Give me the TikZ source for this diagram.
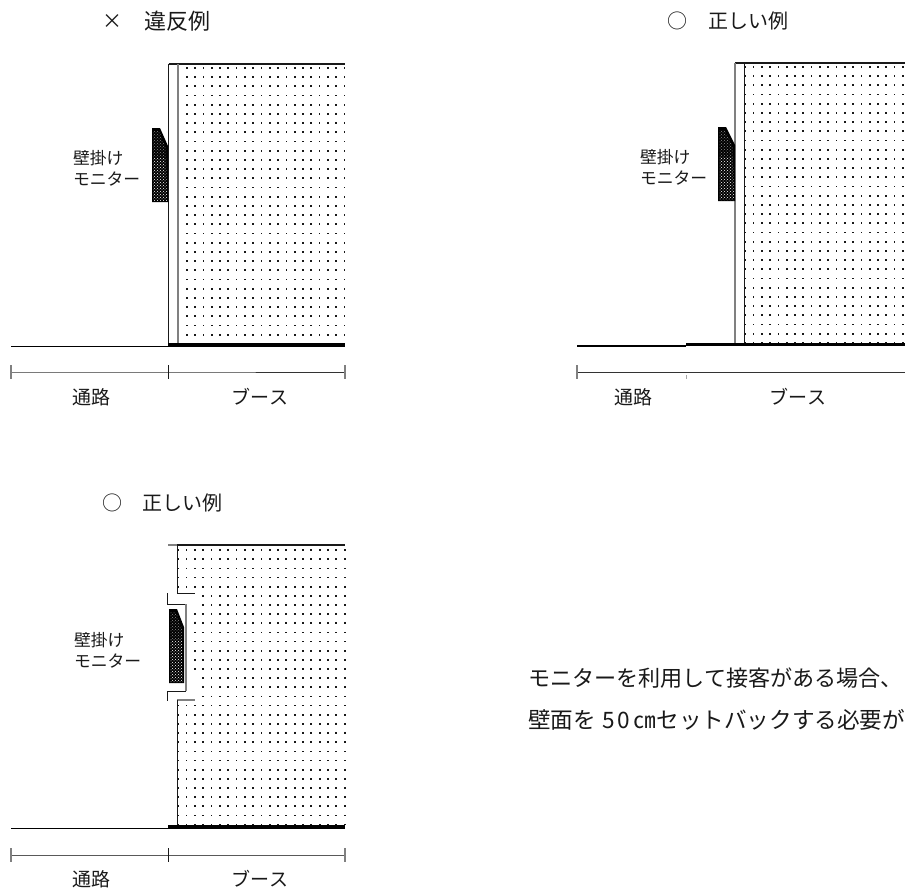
\documentclass[tikz,border=0pt]{standalone}
\usepackage{fontspec}
\usetikzlibrary{patterns}
\newfontfamily\cjk{Noto Sans CJK JP}
\newcommand{\fs}[1]{\fontsize{#1}{#1}\selectfont\cjk}
\tikzset{
  x=1pt,y=-1pt,
  lbl/.style={inner sep=0pt,outer sep=0pt,text=black!90},
  title/.style={lbl,font=\fs{20}},
  mon/.style={lbl,anchor=west,font=\fs{16.8}},
  dimtxt/.style={lbl,font=\fs{19}},
  body/.style={lbl,anchor=west,font=\fs{22.6}},
  ln/.style={line width=0.9pt,black!90},
  grayln/.style={line width=1.1pt,black!50},
  floorthin/.style={line width=1.7pt,black},
  floorthick/.style={line width=3.2pt,black},
  dimln/.style={line width=0.8pt,black!80},
  spot/.style={fill=black!90},
}
\newcommand{\monitor}[5]{% x0,xTop,xR,yTop,yBot
  \fill[black] (#1,#4) -- (#2,#4) -- (#3,#4+18) -- (#3,#5) -- (#1,#5) -- cycle;
  \fill[pattern=crosshatch dots,pattern color=black!45] (#1+1,#4+3) -- (#2-1,#4+3) -- (#3-2,#4+20) -- (#3-2,#4+30) -- (#1+1,#4+30) -- cycle;
  \fill[pattern=crosshatch dots,pattern color=white] (#1+1,#4+30) -- (#3-2,#4+30) -- (#3-1,#5-1) -- (#1+1,#5-1) -- cycle;
}
\begin{document}
\begin{tikzpicture}
\useasboundingbox (0,0) rectangle (905,889);
% ---------- panel 1 dots
\foreach \i in {0,...,20}\foreach \j in {0,...,30}
  \fill[spot] ({177.6+\i*8.3},{67+\j*9.2}) rectangle +(1.7,1.7);
% ---------- panel 2 dots
\begin{scope}
\clip (745,60) rectangle (905,344);
\foreach \i in {0,...,19}\foreach \j in {0,...,30}
  \fill[spot] ({744.3+\i*8.3},{66+\j*9.2}) rectangle +(1.7,1.7);
\end{scope}
% ---------- panel 3 dots
\foreach \i in {0,...,20}\foreach \j in {0,...,30}{
  \pgfmathtruncatemacro{\yy}{550+\j*9.15}
  \pgfmathtruncatemacro{\show}{(\yy<592 || \yy>702 || \i>=3 || (\i==2 && \yy>608 && \yy<675)) ? 1 : 0}
  \ifnum\show=1
    \fill[spot] ({177.2+\i*8.33},{549.2+\j*9.15}) rectangle +(1.7,1.7);
  \fi
}
% ---------- panel 1
\node[title] (t1x) at (112,22) {×};
\node[title,font=\fs{22}] (t1) at (177,21) {違反例};
\draw[ln,line width=1.3pt] (168.5,64) -- (345,64);
\draw[ln,line width=1.1pt] (168.5,64) -- (168.5,345);
\draw[grayln] (178,64) -- (178,345);
\monitor{152}{160}{168}{128}{202}
\node[mon] (m1a) at (73,158) {壁掛け};
\node[mon] (m1b) at (73,179) {モニター};
\draw[floorthin] (11,346.6) -- (168.5,346.6);
\draw[floorthick] (168,345) -- (345,345);
\coordinate (d1a) at (11,372); \coordinate (d1b) at (168.5,372); \coordinate (d1c) at (345,372);
\draw[dimln] (d1a) -- (d1b) -- (d1c);
\draw[grayln] (d1a)+(0,-7) -- +(0,7);
\draw[ln,line width=1.2pt] (d1b)+(0,-7) -- +(0,7);
\draw[grayln] (d1c)+(0,-7) -- +(0,7);
\node[dimtxt] (d1t) at (91.5,397) {通路};
\node[dimtxt] (d1u) at (260,397) {ブース};
% ---------- panel 2
\node[title] (t2o) at (677,21) {○};
\node[title] (t2) at (748,21) {正しい例};
\draw[ln,line width=1.3pt] (735,63) -- (905,63);
\draw[grayln] (735,63) -- (735,344);
\draw[ln,line width=1.1pt] (744.7,63) -- (744.7,344);
\monitor{718}{726}{735}{127}{201}
\node[mon] (m2a) at (640,157) {壁掛け};
\node[mon] (m2b) at (640,178) {モニター};
\draw[floorthin] (577,346) -- (686,346);
\draw[floorthick] (686,344.5) -- (905,344.5);
\coordinate (d2a) at (577,372); \coordinate (d2b) at (686.5,372); \coordinate (d2c) at (905,372);
\draw[dimln] (d2a) -- (d2c);
\draw[grayln] (d2a)+(0,-7) -- +(0,7);
\draw[line width=1pt,black!35] (d2b)+(0,3) -- +(0,7);
\node[dimtxt] (d2t) at (633,397) {通路};
\node[dimtxt] (d2u) at (798,397) {ブース};
% ---------- panel 3
\node[title] (t3o) at (112,503) {○};
\node[title] (t3) at (182,503) {正しい例};
\draw[grayln] (168,545) -- (177.3,545);
\draw[ln,line width=1.1pt] (177.3,545) -- (345,545);
\draw[ln] (177.3,545) -- (177.3,593) -- (195,593);
\draw[ln] (167.5,593) -- (167.5,604) -- (186,604);
\draw[grayln,line width=1.4pt] (186,604) -- (186,691);
\draw[ln] (186,691) -- (167.5,691) -- (167.5,701);
\draw[grayln] (177.3,700) -- (195,700);
\draw[ln] (177.3,700) -- (177.3,827);
\monitor{169}{177}{184}{609}{683}
\node[mon] (m3a) at (74,640) {壁掛け};
\node[mon] (m3b) at (74,661) {モニター};
\draw[floorthin] (11,828.5) -- (168,828.5);
\draw[floorthick] (168,827) -- (345,827);
\coordinate (d3a) at (11,855); \coordinate (d3b) at (168.5,855); \coordinate (d3c) at (345,855);
\draw[dimln,black!65] (d3a) -- (d3b) -- (d3c);
\draw[grayln] (d3a)+(0,-7) -- +(0,7);
\draw[ln,line width=1.2pt] (d3b)+(0,-7) -- +(0,7);
\draw[grayln] (d3c)+(0,-7) -- +(0,7);
\node[dimtxt] (d3t) at (91.5,879) {通路};
\node[dimtxt] (d3u) at (260,879) {ブース};
% ---------- note
\node[body,font=\fs{22.1}] (n1) at (528,678) {モニターを利用して接客がある場合、};
\begin{scope}
\clip (520,700) rectangle (905,740);
\node[body] (n2) at (528,720) {壁面を\hspace{7pt}5\hspace{2pt}0\hspace{4pt}㎝セットバックする必要が};
\end{scope}
\end{tikzpicture}
\end{document}
